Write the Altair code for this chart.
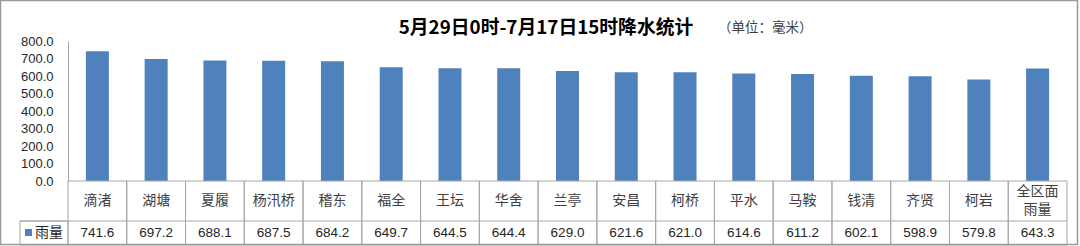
import altair as alt
import pandas as pd

cats = ["滴渚", "湖塘", "夏履", "杨汛桥", "稽东", "福全", "王坛", "华舍", "兰亭",
        "安昌", "柯桥", "平水", "马鞍", "钱清", "齐贤", "柯岩", "全区面\n雨量"]
vals = [741.6, 697.2, 688.1, 687.5, 684.2, 649.7, 644.5, 644.4, 629.0,
        621.6, 621.0, 614.6, 611.2, 602.1, 598.9, 579.8, 643.3]
y_ticks = [0, 100, 200, 300, 400, 500, 600, 700, 800]
title_text = "5月29日0时-7月17日15时降水统计"
unit_text = "（单位：毫米）"
series_name = "雨量"

df = pd.DataFrame({"cat": cats, "val": vals})
one = pd.DataFrame({"k": [0]})

CJK = "Noto Sans CJK SC"
NUM = "Liberation Sans"
BLUE = "#4F81BD"
LINE = "#A6A6A6"

xenc = alt.X("cat:N", sort=cats, scale=alt.Scale(paddingInner=0, paddingOuter=0), axis=None)

base = alt.Chart(df)

bars = base.mark_bar(size=23, color=BLUE).encode(
    x=xenc,
    y=alt.Y("val:Q", scale=alt.Scale(domain=[0, 800], nice=False),
            axis=alt.Axis(values=y_ticks, format=".1f", grid=False, ticks=False,
                          domainColor=LINE, labelPadding=15, labelFont=NUM,
                          labelFontSize=13, labelColor="#262626", title=None)),
)

cells = base.mark_rect(fill="transparent", stroke=LINE, strokeWidth=1).encode(
    x=xenc, y=alt.value(140), y2=alt.value(204)
)

row_line = alt.Chart(one).mark_rule(color=LINE, strokeWidth=1).encode(
    x=alt.value(-48), x2=alt.value(999), y=alt.value(180)
)

legend_cell = alt.Chart(one).mark_rect(fill="transparent", stroke=LINE, strokeWidth=1).encode(
    x=alt.value(-48), x2=alt.value(0), y=alt.value(180), y2=alt.value(204)
)

legend_sq = alt.Chart(one).mark_rect(color=BLUE).encode(
    x=alt.value(-43), x2=alt.value(-36), y=alt.value(188), y2=alt.value(195)
)

legend_txt = alt.Chart(pd.DataFrame({"t": [series_name]})).mark_text(
    font=CJK, fontSize=14, align="left", baseline="middle", color="#262626"
).encode(x=alt.value(-33), y=alt.value(191.5), text="t:N")

cat_labels = base.mark_text(
    font=CJK, fontSize=14, baseline="middle", color="#404040"
).encode(x=xenc, y=alt.value(159.5), text="cat:N").transform_filter(
    "length(datum.cat) <= 4"
)

cat_labels_ml = base.mark_text(
    font=CJK, fontSize=14, baseline="middle", color="#404040", lineBreak="\n", lineHeight=18
).encode(x=xenc, y=alt.value(151), text="cat:N").transform_filter(
    "length(datum.cat) > 4"
)

val_labels = base.mark_text(
    font=NUM, fontSize=13.5, baseline="middle", color="#262626"
).encode(x=xenc, y=alt.value(192), text=alt.Text("val:Q", format=".1f"))

title = alt.Chart(pd.DataFrame({"t": [title_text]})).mark_text(
    font=CJK, fontSize=18.8, fontWeight="bold", baseline="middle", align="center", color="#000000"
).encode(x=alt.value(478), y=alt.value(-13), text="t:N")

unit = alt.Chart(pd.DataFrame({"t": [unit_text]})).mark_text(
    font=CJK, fontSize=13.5, baseline="middle", align="left", color="#404040"
).encode(x=alt.value(650), y=alt.value(-13), text="t:N")

frame = alt.Chart(one).mark_rect(fill="transparent", stroke="#9A9A9A", strokeWidth=1.5).encode(
    x=alt.value(-67.5), x2=alt.value(1009.5), y=alt.value(-40.5), y2=alt.value(203.5)
)

chart = alt.layer(
    bars, cells, row_line, legend_cell, legend_sq, legend_txt,
    cat_labels, cat_labels_ml, val_labels, title, unit, frame
).properties(
    width=999, height=140,
    autosize=alt.AutoSizeParams(type="none"),
    padding={"left": 68, "top": 41, "right": 13, "bottom": 65},
    background="white",
).configure_view(stroke="transparent")

chart.save("out.html", embed_options={"renderer": "svg", "actions": False})
